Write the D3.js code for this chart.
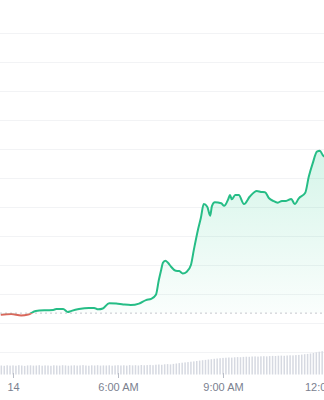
<!DOCTYPE html>
<html>
<head>
<meta charset="utf-8">
<script src="https://cdn.jsdelivr.net/npm/d3@7"></script>
<style>
  body { margin: 0; background: #fff; }
  svg { display: block; font-family: Inter, "Noto Sans", sans-serif; }
</style>
</head>
<body>
<svg id="chart" width="324" height="400"></svg>
<script>
// price samples (local time, price)
const times = ["02:39","02:57","03:14","03:26","03:39","03:57","04:09","04:14","04:26","04:34",
  "04:39","04:53","05:10","05:19","05:26","05:34","05:45","05:57","06:09","06:22",
  "06:36","06:48","06:57","07:05","07:10","07:14","07:17","07:21","07:26","07:31",
  "07:39","07:45","07:51","07:58","08:05","08:10","08:17","08:22","08:27","08:33",
  "08:38","08:41","08:46","08:57","09:02","09:09","09:12","09:15","09:21","09:27",
  "09:36","09:46","09:58","10:05","10:12","10:19","10:26","10:34","10:41","10:48",
  "10:57","11:03","11:10","11:21","11:27","11:34","11:41","11:46","11:51","11:57"];
const prices = [0.9128,0.9131,0.9126,0.9129,0.9141,0.9144,0.9145,0.9148,0.9148,0.9138,
  0.9141,0.9148,0.9152,0.9152,0.9147,0.9150,0.9168,0.9167,0.9164,0.9162,
  0.9167,0.9179,0.9183,0.9197,0.9248,0.9283,0.9308,0.9315,0.9307,0.9294,
  0.9280,0.9279,0.9271,0.9277,0.9300,0.9352,0.9421,0.9462,0.9510,0.9501,
  0.9470,0.9503,0.9516,0.9513,0.9504,0.9527,0.9541,0.9527,0.9541,0.9541,
  0.9510,0.9536,0.9555,0.9552,0.9551,0.9530,0.9521,0.9515,0.9521,0.9521,
  0.9528,0.9510,0.9530,0.9549,0.9604,0.9652,0.9691,0.9694,0.9679,0.9669];
const openPrice = 0.9134;

// 5 minute volume bars starting 02:40
const volStart = "02:40";
const volumes = [9.0,8.7,9.2,8.9,9.1,8.8,9.3,9.0,8.6,9.1,
  9.2,8.9,9.0,9.3,8.8,9.1,9.0,8.7,9.2,9.0,
  8.9,9.3,9.1,8.8,9.0,9.2,8.9,9.1,9.4,9.0,
  8.8,9.2,9.0,9.3,8.9,9.1,9.0,9.2,8.8,9.1,
  9.3,9.0,9.2,8.9,9.4,9.1,9.3,9.0,9.5,9.2,
  9.4,9.6,9.3,9.8,10.0,9.7,10.2,10.4,10.1,10.6,
  11.0,11.4,11.8,12.1,12.4,12.8,13.1,13.5,13.9,14.3,
  14.6,15.0,15.3,15.7,16.0,16.3,16.6,16.8,17.0,16.9,
  17.2,17.4,17.3,17.6,17.8,17.7,18.0,18.1,17.9,18.2,
  18.3,18.1,18.4,18.6,18.5,18.8,18.9,18.7,19.0,19.2,
  19.1,19.4,19.6,19.9,20.3,20.6,21.0,21.5,22.2,22.8,
  23.3,23.6];

const gridTicks = [0.90,0.91,0.92,0.93,0.94,0.95,0.96,0.97,0.98,0.99,1.00,1.01];
const tickTimes = ["03:00","06:00","09:00","12:00"];
const tickLabels = ["14","6:00 AM","9:00 AM","12:00 PM"];

const parse = d3.timeParse("%H:%M");
const svg = d3.select("#chart");
const width = 324;

const x = d3.scaleTime()
  .domain([parse("02:00"), parse("12:00")])
  .range([-22, 328]);
const y = d3.scaleLinear().domain([0.90, 1.01]).range([352, 33]);
const yVol = d3.scaleLinear().domain([0, 30]).range([374.5, 344.5]);

const data = times.map((t, i) => ({ t: parse(t), p: prices[i] }));
const baseY = y(openPrice);

// gridlines
svg.append("g")
  .selectAll("line")
  .data(gridTicks)
  .join("line")
  .attr("x1", 0)
  .attr("x2", width)
  .attr("y1", d => Math.round(y(d)) + 0.5)
  .attr("y2", d => Math.round(y(d)) + 0.5)
  .attr("stroke", "#f2f3f5");

// volume bars
const t0 = parse(volStart);
svg.append("g")
  .selectAll("rect")
  .data(volumes)
  .join("rect")
  .attr("x", (d, i) => x(d3.timeMinute.offset(t0, i * 5)) - 0.75)
  .attr("width", 1.5)
  .attr("y", d => yVol(d))
  .attr("height", d => yVol(0) - yVol(d))
  .attr("fill", "#d6d9e1");

// x axis
const xAxis = d3.axisBottom(x)
  .tickValues(tickTimes.map(parse))
  .tickFormat((d, i) => tickLabels[i])
  .tickSize(5)
  .tickPadding(5);
const ax = svg.append("g").attr("transform", "translate(0,373)").call(xAxis);
ax.select(".domain").remove();
ax.selectAll(".tick line").attr("stroke", "#b8bcc6");
ax.selectAll(".tick text")
  .attr("fill", "#7b8190")
  .style("font-size", "11px")
  .style("font-weight", "500");

// clip above / below open price
const defs = svg.append("defs");
defs.append("clipPath").attr("id", "above")
  .append("rect").attr("x", 0).attr("y", 0).attr("width", width).attr("height", baseY);
defs.append("clipPath").attr("id", "below")
  .append("rect").attr("x", 0).attr("y", baseY).attr("width", width).attr("height", 400 - baseY);

const gUp = defs.append("linearGradient").attr("id", "gUp")
  .attr("gradientUnits", "userSpaceOnUse")
  .attr("x1", 0).attr("x2", 0)
  .attr("y1", y(d3.max(prices))).attr("y2", baseY);
gUp.append("stop").attr("offset", 0).attr("stop-color", "#16c784").attr("stop-opacity", 0.18);
gUp.append("stop").attr("offset", 1).attr("stop-color", "#16c784").attr("stop-opacity", 0.02);

const gDown = defs.append("linearGradient").attr("id", "gDown")
  .attr("gradientUnits", "userSpaceOnUse")
  .attr("x1", 0).attr("x2", 0)
  .attr("y1", baseY).attr("y2", baseY + 10);
gDown.append("stop").attr("offset", 0).attr("stop-color", "#ea3943").attr("stop-opacity", 0.02);
gDown.append("stop").attr("offset", 1).attr("stop-color", "#ea3943").attr("stop-opacity", 0.15);

const area = d3.area()
  .x(d => x(d.t))
  .y0(baseY)
  .y1(d => y(d.p))
  .curve(d3.curveMonotoneX);
const line = d3.line()
  .x(d => x(d.t))
  .y(d => y(d.p))
  .curve(d3.curveMonotoneX);

svg.append("path").datum(data).attr("d", area)
  .attr("fill", "url(#gUp)").attr("clip-path", "url(#above)");
svg.append("path").datum(data).attr("d", area)
  .attr("fill", "url(#gDown)").attr("clip-path", "url(#below)");

// dotted open price line
svg.append("line")
  .attr("x1", 0).attr("x2", width)
  .attr("y1", baseY).attr("y2", baseY)
  .attr("stroke", "#c3c6cc")
  .attr("stroke-dasharray", "2,3");

svg.append("path").datum(data).attr("d", line)
  .attr("fill", "none").attr("stroke", "#26bd86").attr("stroke-width", 2)
  .attr("stroke-linejoin", "round").attr("clip-path", "url(#above)");
svg.append("path").datum(data).attr("d", line)
  .attr("fill", "none").attr("stroke", "#d9675b").attr("stroke-width", 2)
  .attr("stroke-linejoin", "round").attr("clip-path", "url(#below)");
</script>
</body>
</html>
